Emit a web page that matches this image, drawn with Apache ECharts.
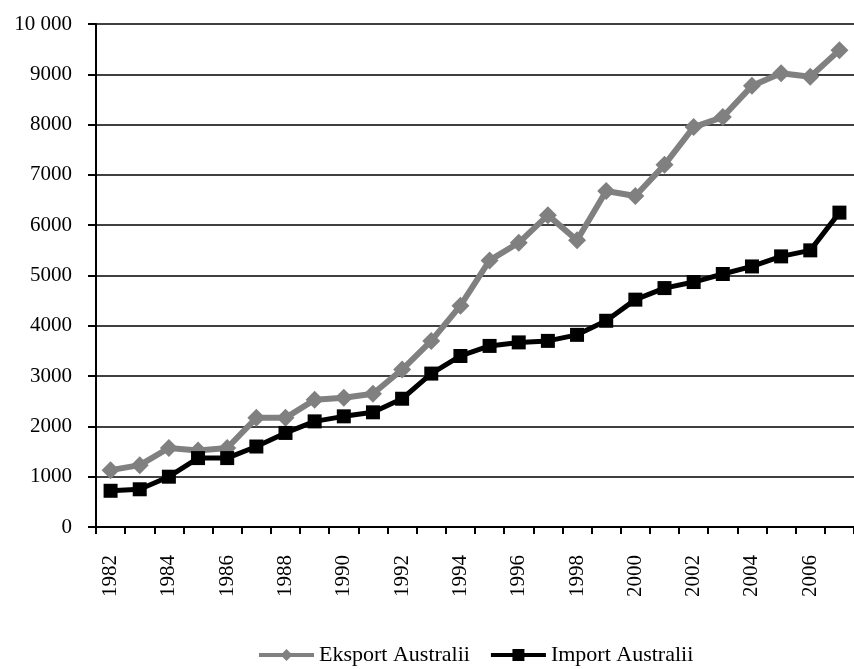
<!DOCTYPE html>
<html>
<head>
<meta charset="utf-8">
<title>Eksport i import Australii</title>
<script src="https://cdn.jsdelivr.net/npm/echarts@6/dist/echarts.min.js"></script>
<style>
    html, body { margin: 0; padding: 0; background: #fff; }
    #chart { width: 854px; height: 669px; }
</style>
</head>
<body>
<div id="chart"></div>
<script>
var years = ['1982', '1983', '1984', '1985', '1986', '1987', '1988', '1989', '1990', '1991',
    '1992', '1993', '1994', '1995', '1996', '1997', '1998', '1999', '2000', '2001',
    '2002', '2003', '2004', '2005', '2006', '2007'];
var eksport = [1130, 1230, 1570, 1520, 1570, 2170, 2170, 2530, 2570, 2650,
    3130, 3700, 4400, 5300, 5650, 6200, 5700, 6680, 6580, 7200,
    7950, 8150, 8770, 9020, 8950, 9480];
var importAu = [720, 750, 1000, 1370, 1370, 1600, 1870, 2100, 2200, 2280,
    2550, 3050, 3400, 3600, 3670, 3700, 3820, 4100, 4520, 4750,
    4870, 5030, 5180, 5380, 5500, 6250];
var yTicks = [0, 1000, 2000, 3000, 4000, 5000, 6000, 7000, 8000, 9000, 10000];
var yTickLabels = ['0', '1000', '2000', '3000', '4000', '5000', '6000', '7000', '8000', '9000', '10 000'];

var font = '"Liberation Serif", "Times New Roman", serif';

var chart = echarts.init(document.getElementById('chart'));
chart.setOption({
    animation: false,
    textStyle: { fontFamily: font },
    grid: { left: 96, top: 24, bottom: 142, right: -12, containLabel: false },
    legend: {
        bottom: 3,
        left: 257,
        padding: 0,
        itemWidth: 55,
        itemHeight: 15,
        itemGap: 19,
        lineStyle: { width: 4 },
        textStyle: { fontFamily: font, fontSize: 22, color: '#000' },
        data: ['Eksport Australii', 'Import Australii']
    },
    xAxis: {
        type: 'category',
        data: years,
        boundaryGap: true,
        axisLine: { lineStyle: { color: '#000', width: 2 } },
        axisTick: { show: true, length: 7, interval: 0, lineStyle: { color: '#000', width: 2 } },
        axisLabel: { rotate: 90, interval: 1, margin: 28, fontSize: 21, color: '#000', fontFamily: font },
        splitLine: { show: false }
    },
    yAxis: {
        type: 'value',
        min: 0,
        max: 10000,
        interval: 1000,
        axisLine: { show: true, lineStyle: { color: '#000', width: 2 } },
        axisTick: { show: true, length: 8, lineStyle: { color: '#000', width: 2 } },
        axisLabel: {
            margin: 24, fontSize: 21, color: '#000', fontFamily: font,
            formatter: function (v) {
                var i = yTicks.indexOf(v);
                return i >= 0 ? yTickLabels[i] : '';
            }
        },
        splitLine: { show: true, lineStyle: { color: '#000', width: 1.5 } }
    },
    series: [
        {
            name: 'Eksport Australii',
            type: 'line',
            data: eksport,
            symbol: 'diamond',
            symbolSize: 18,
            lineStyle: { color: '#808080', width: 6 },
            itemStyle: { color: '#808080' },
            z: 3
        },
        {
            name: 'Import Australii',
            type: 'line',
            data: importAu,
            symbol: 'rect',
            symbolSize: 14,
            lineStyle: { color: '#000', width: 5 },
            itemStyle: { color: '#000' },
            z: 4
        }
    ]
});
</script>
</body>
</html>
